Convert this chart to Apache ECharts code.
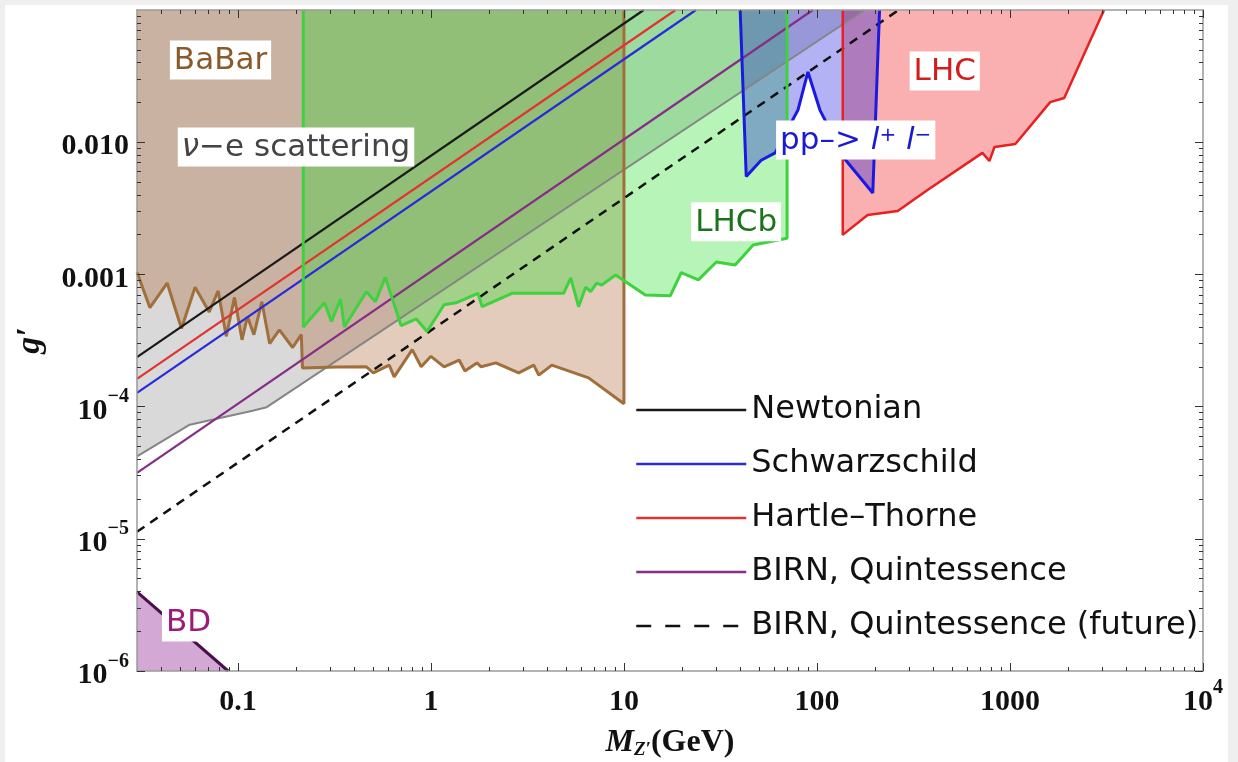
<!DOCTYPE html>
<html>
<head>
<meta charset="utf-8">
<title>g' vs M_Z'</title>
<script src="https://cdn.jsdelivr.net/npm/echarts@6/dist/echarts.min.js"></script>
<style>
  html, body { margin: 0; padding: 0; background: #efefef; }
  #chart { position: absolute; left: 5px; top: 5px; width: 1223px; height: 757px; background: #fff; }
</style>
</head>
<body>
<div id="chart"></div>
<script>
// axis range (log-log)
const xMin = 0.03, xMax = 10000;
const yMin = 1e-6, yMax = 0.1;
const xMajorTicks = [0.1, 1, 10, 100, 1000, 10000];
const yMajorTicks = [1e-6, 1e-5, 1e-4, 1e-3, 0.01];
const xDecades = [0.01, 0.1, 1, 10, 100, 1000];
const yDecades = [1e-6, 1e-5, 1e-4, 1e-3, 0.01];

// BaBar: lower edge of the excluded region (M in GeV, g')
const babarM = [0.030, 0.035, 0.043, 0.051, 0.060, 0.071, 0.079, 0.087, 0.096, 0.105, 0.112, 0.121, 0.133, 0.146, 0.164, 0.192, 0.213, 0.216, 0.324, 0.463, 0.503, 0.608, 0.645, 0.80, 0.89, 1.0, 1.17, 1.40, 1.50, 1.73, 1.82, 2.17, 2.85, 3.41, 3.62, 4.23, 6.56, 10, 10];
const babarG = [1.04e-3, 5.6e-4, 8.6e-4, 3.9e-4, 8.0e-4, 5.2e-4, 7.5e-4, 3.4e-4, 6.7e-4, 3.2e-4, 4.8e-4, 3.5e-4, 6.2e-4, 3.0e-4, 3.8e-4, 2.8e-4, 3.5e-4, 1.96e-4, 1.99e-4, 2.0e-4, 1.8e-4, 2.06e-4, 1.68e-4, 2.7e-4, 2.0e-4, 2.4e-4, 2.0e-4, 2.25e-4, 1.86e-4, 2.14e-4, 2.0e-4, 2.14e-4, 1.8e-4, 2.06e-4, 1.73e-4, 2.06e-4, 1.65e-4, 1.05e-4, 0.1];

// LHCb
const lhcbM = [0.218, 0.218, 0.255, 0.281, 0.305, 0.340, 0.356, 0.463, 0.515, 0.580, 0.70, 0.84, 0.955, 1.17, 1.35, 1.75, 1.84, 2.63, 4.87, 5.30, 5.82, 6.33, 6.72, 7.22, 7.66, 9.05, 10.2, 12.9, 17.4, 19.8, 24.3, 30.1, 37.7, 46.7, 70, 70];
const lhcbG = [0.1, 4.0e-4, 5.2e-4, 6.1e-4, 4.4e-4, 6.5e-4, 4.0e-4, 7.4e-4, 6.2e-4, 9.5e-4, 4.1e-4, 4.6e-4, 3.7e-4, 5.9e-4, 6.1e-4, 7.2e-4, 5.7e-4, 7.2e-4, 7.2e-4, 9.4e-4, 5.7e-4, 8.0e-4, 7.4e-4, 8.6e-4, 8.3e-4, 9.9e-4, 8.8e-4, 7.0e-4, 6.9e-4, 1.03e-3, 9.1e-4, 1.24e-3, 1.18e-3, 1.67e-3, 1.88e-3, 0.1];

// nu-e scattering (grey band, lower edge)
const nueM = [0.03, 0.0563, 0.119, 0.141, 176];
const nueG = [4.2e-5, 7.3e-5, 9.3e-5, 9.9e-5, 0.1];

// pp -> l+ l-
const ppM = [40.0, 43.0, 51.4, 60.7, 79.7, 89.8, 103.6, 141, 194.6, 211];
const ppG = [0.1, 5.5e-3, 7.3e-3, 8.3e-3, 0.0175, 0.034, 0.0175, 7.3e-3, 4.13e-3, 0.1];

// LHC
const lhcM = [136, 136, 183, 262, 374, 720, 782, 831, 1066, 1616, 1910, 3072];
const lhcG = [0.1, 1.99e-3, 2.81e-3, 3.02e-3, 4.35e-3, 8.3e-3, 7.2e-3, 9.2e-3, 9.7e-3, 0.0201, 0.0216, 0.1];

// BD (beam dump), filled below
const bdM = [0.03, 0.089];
const bdG = [3.96e-6, 1.0e-6];

// model bounds (straight lines, end points)
const newtonM = [0.03, 12.66];
const newtonG = [2.37e-4, 0.1];
const schwM = [0.03, 23.6];
const schwG = [1.27e-4, 0.1];
const hartleM = [0.03, 18.5];
const hartleG = [1.62e-4, 0.1];
const birnM = [0.03, 95.2];
const birnG = [3.15e-5, 0.1];
const futureM = [0.03, 265];
const futureG = [1.13e-5, 0.1];

const legendNames = ['Newtonian', 'Schwarzschild', 'Hartle\u2013Thorne', 'BIRN, Quintessence', 'BIRN, Quintessence (future)'];

// region labels
const annotations = [
  { text: 'BaBar', M: 0.0444, g: 0.0419, color: '#8b5a2b' },
  { text: '{i|\u03bd}\u2212e scattering', M: 0.0488, g: 0.0092, color: '#444444' },
  { text: 'LHCb', M: 22.3, g: 2.5e-3, color: '#1a751a' },
  { text: 'pp\u2013> {i|l}{sup|+} {i|l}{sup|\u2212}', M: 61.4, g: 0.0104, color: '#1a1ad0' },
  { text: 'LHC', M: 302, g: 0.0346, color: '#d41c1c' },
  { text: 'BD', M: 0.0404, g: 2.35e-6, color: '#9c1a78' }
];

const zip = (xs, ys) => xs.map((x, i) => [x, ys[i]]);

function minorTicks(decades, lo, hi) {
  const out = [];
  decades.forEach(d => {
    for (let k = 2; k <= 9; k++) {
      const v = +(d * k).toPrecision(6);
      if (v > lo * 1.001 && v < hi * 0.999) out.push(v);
    }
  });
  return out;
}
const xMinorTicks = minorTicks(xDecades, xMin, xMax);
const yMinorTicks = minorTicks(yDecades, yMin, yMax);

const axisGray = '#9a9a9a';
const tickColor = '#333';
const serif = 'Liberation Serif';
const sans = 'DejaVu Sans';
const numRich = {
  b: { fontFamily: serif, fontWeight: 'bold', fontSize: 30, color: '#111', verticalAlign: 'bottom', padding: [9, 0, 0, 0] },
  s: { fontFamily: serif, fontWeight: 'bold', fontSize: 20, color: '#111', verticalAlign: 'top' }
};

function xLabel(v) {
  if (v > 5000) return '{b|10}{s|4}';
  if (v < 0.5) return '{b|0.1}';
  return '{b|' + Math.round(v) + '}';
}
function yLabel(v) {
  if (v > 5e-4) return '{b|' + v.toFixed(3) + '}';
  const e = Math.round(Math.log10(v));
  return '{b|10}{s|\u2212' + (-e) + '}';
}

function mkX(pos, ticks, len, major, labels) {
  return {
    type: 'log', logBase: 10, min: xMin, max: xMax, position: pos, z: 10,
    axisLine: { show: major, lineStyle: { color: axisGray, width: 1.5 } },
    axisTick: { show: true, inside: true, length: len, customValues: ticks, lineStyle: { color: tickColor, width: 1 } },
    axisLabel: { show: labels, customValues: ticks, margin: 7, formatter: xLabel, rich: numRich },
    splitLine: { show: false }, minorTick: { show: false }, minorSplitLine: { show: false }
  };
}
function mkY(pos, ticks, len, major, labels) {
  return {
    type: 'log', logBase: 10, min: yMin, max: yMax, position: pos, z: 10,
    axisLine: { show: major, lineStyle: { color: axisGray, width: 1.5 } },
    axisTick: { show: true, inside: true, length: len, customValues: ticks, lineStyle: { color: tickColor, width: 1 } },
    axisLabel: { show: labels, customValues: ticks, margin: 8, formatter: yLabel, rich: numRich },
    splitLine: { show: false }, minorTick: { show: false }, minorSplitLine: { show: false }
  };
}

const xAxes = [
  mkX('bottom', xMajorTicks, 8, true, true),
  mkX('bottom', xMinorTicks, 4, false, false),
  mkX('top', xMajorTicks, 8, true, false),
  mkX('top', xMinorTicks, 4, false, false)
];
Object.assign(xAxes[0], {
  name: '{i|M}{sub|Z\u2032}{b|(GeV)}',
  nameLocation: 'middle',
  nameGap: 56,
  nameTextStyle: {
    rich: {
      i: { fontFamily: serif, fontStyle: 'italic', fontWeight: 'bold', fontSize: 32, color: '#111', verticalAlign: 'top' },
      sub: { fontFamily: serif, fontStyle: 'italic', fontWeight: 'bold', fontSize: 19, color: '#111', verticalAlign: 'bottom', padding: [14, 0, 0, 0] },
      b: { fontFamily: serif, fontWeight: 'bold', fontSize: 32, color: '#111', verticalAlign: 'top' }
    }
  }
});

const yAxes = [
  mkY('left', yMajorTicks, 8, true, true),
  mkY('left', yMinorTicks, 4, false, false),
  mkY('right', yMajorTicks, 8, true, false),
  mkY('right', yMinorTicks, 4, false, false)
];
Object.assign(yAxes[0], {
  name: 'g\u2032',
  nameLocation: 'middle',
  nameGap: 90,
  nameRotate: 90,
  nameTextStyle: { fontFamily: serif, fontStyle: 'italic', fontWeight: 'bold', fontSize: 34, color: '#111' }
});

function region(name, xs, ys, edge, fill, origin, width) {
  return {
    name: name, type: 'line', data: zip(xs, ys), symbol: 'none', silent: true,
    lineStyle: { color: edge, width: width },
    areaStyle: { color: fill, origin: origin, opacity: 1 }
  };
}
function bound(name, xs, ys, color, dashed) {
  return {
    name: name, type: 'line', data: zip(xs, ys), symbol: 'none', silent: true,
    itemStyle: { color: color },
    lineStyle: { color: color, width: dashed ? 2.5 : 2.2, type: dashed ? [9, 7] : 'solid' }
  };
}

const series = [
  region('nu-e', nueM, nueG, '#858585', 'rgba(128,128,128,0.3)', 'end', 2),
  region('BaBar', babarM, babarG, '#a06f3c', 'rgba(170,100,50,0.33)', 'end', 3),
  bound(legendNames[0], newtonM, newtonG, '#1a1a1a', false),
  bound(legendNames[1], schwM, schwG, '#2a2ad8', false),
  bound(legendNames[2], hartleM, hartleG, '#e03434', false),
  bound(legendNames[3], birnM, birnG, '#862d86', false),
  bound(legendNames[4], futureM, futureG, '#111', true),
  region('LHCb', lhcbM, lhcbG, '#3ed23e', 'rgba(30,220,30,0.32)', 'end', 3),
  region('LHC', lhcM, lhcG, '#e82020', 'rgba(240,0,0,0.31)', 'end', 2.5),
  region('pp', ppM, ppG, '#1a1ae0', 'rgba(0,0,220,0.3)', 'end', 3),
  region('BD', bdM, bdG, '#4a104a', 'rgba(128,0,128,0.34)', 'start', 3),
  {
    name: 'labels', type: 'scatter', symbolSize: 0, silent: true, z: 12,
    itemStyle: { opacity: 1 },
    data: annotations.map(a => ({ value: [a.M, a.g], label: { formatter: a.text, color: a.color } })),
    label: {
      show: true, position: 'right', distance: 0, opacity: 1,
      backgroundColor: '#ffffff', padding: [5, 4, 3, 4],
      fontFamily: sans, fontSize: 31,
      rich: {
        i: { fontFamily: sans, fontStyle: 'italic', fontSize: 31 },
        sup: { fontFamily: sans, fontSize: 20, verticalAlign: 'top' }
      }
    }
  }
];

// legend entries; the future bound gets a coarser dash in the key
const legendData = legendNames.map((n, i) => i === 4
  ? { name: n, lineStyle: { type: [15, 14], width: 2.5 } }
  : { name: n });

const chart = echarts.init(document.getElementById('chart'), null, { renderer: 'canvas' });
chart.setOption({
  animation: false,
  backgroundColor: '#fff',
  grid: { left: 132, right: 25, top: 5, bottom: 91, containLabel: false, outerBoundsMode: 'none' },
  legend: {
    data: legendData,
    orient: 'vertical',
    left: 625, top: 383,
    itemWidth: 110, itemHeight: 14, itemGap: 20,
    selectedMode: false,
    itemStyle: { opacity: 0 },
    lineStyle: { width: 2.5 },
    textStyle: { fontFamily: sans, fontSize: 32, color: '#111', lineHeight: 34 }
  },
  xAxis: xAxes,
  yAxis: yAxes,
  series: series
});
</script>
</body>
</html>
